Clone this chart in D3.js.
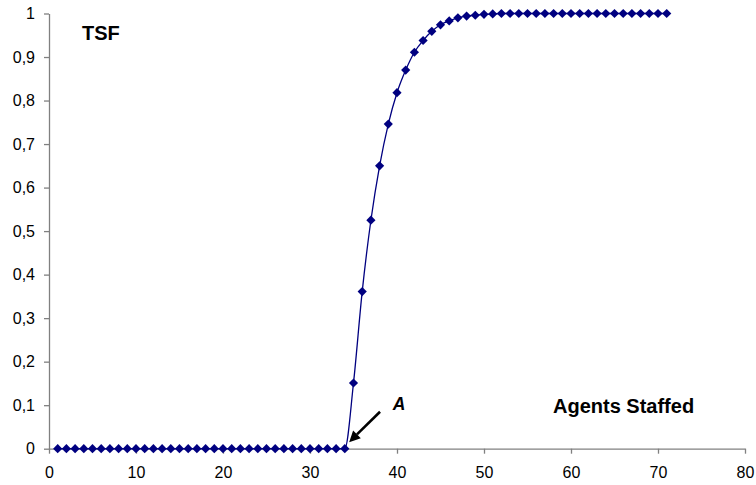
<!DOCTYPE html>
<html><head><meta charset="utf-8">
<script src="https://cdn.jsdelivr.net/npm/d3@7"></script>
<style>body{margin:0;background:#fff}svg{display:block}text{font-family:"Liberation Sans",Arial,sans-serif}</style>
</head><body><svg id="c" width="756" height="485"></svg>
<script>
const agents = d3.range(1, 72);
const tsf = [
 0,0,0,0,0,0,0,0,0,0, 0,0,0,0,0,0,0,0,0,0, 0,0,0,0,0,0,0,0,0,0, 0,0,0,0,
 0.151,0.361,0.525,0.650,0.746,0.818,0.870,0.911,0.938,0.959,0.974,0.983,0.990,0.994,0.996,0.998,
 0.999,1,1,1,1,1,1,1,1,1,1,1,1,1,1,1,1,1,1,1,1
];
const xTicks = [0,10,20,30,40,50,60,70,80];
const yTicks = [0,0.1,0.2,0.3,0.4,0.5,0.6,0.7,0.8,0.9,1];
const yTickLabels = ["0","0,1","0,2","0,3","0,4","0,5","0,6","0,7","0,8","0,9","1"];

const svg = d3.select("#c");
const x = d3.scaleLinear().domain([0,80]).range([49,745]);
const y = d3.scaleLinear().domain([0,1]).range([448.7,13.5]);
const axisColor = "#808080";

const xa = svg.append("g").attr("transform",`translate(0,${y(0)})`)
  .call(d3.axisBottom(x).tickValues(xTicks).tickSize(5).tickPadding(13).tickSizeOuter(0));
const ya = svg.append("g").attr("transform",`translate(${x(0)},0)`)
  .call(d3.axisLeft(y).tickValues(yTicks).tickFormat((d,i)=>yTickLabels[i]).tickSize(5).tickPadding(9).tickSizeOuter(0));
[xa,ya].forEach(a=>{
  a.select(".domain").attr("stroke",axisColor).attr("stroke-width",1.3);
  a.selectAll(".tick line").attr("stroke",axisColor).attr("stroke-width",1.3);
  a.selectAll("text").attr("fill","#000").attr("font-size",16).attr("font-family","'Liberation Sans',Arial,sans-serif");
});

const pts = agents.map((a,i)=>[a,tsf[i]]);
svg.append("path").datum(pts)
  .attr("fill","none").attr("stroke","#000080").attr("stroke-width",1.3)
  .attr("d", d3.line().x(d=>x(d[0])).y(d=>y(d[1])).curve(d3.curveMonotoneX));
svg.append("g").selectAll("path").data(pts).join("path")
  .attr("d","M0,-4.6L4.6,0L0,4.6L-4.6,0Z")
  .attr("fill","#000080")
  .attr("transform",d=>`translate(${x(d[0])},${y(d[1])})`);

svg.append("text").attr("x",82).attr("y",40).attr("font-size",20).attr("font-weight","bold").text("TSF");
svg.append("text").attr("x",553).attr("y",412.5).attr("font-size",20).attr("font-weight","bold").text("Agents Staffed");
svg.append("text").attr("x",x(39.5)).attr("y",y(0.09)).attr("font-size",17.5).attr("font-weight","bold").attr("font-style","italic").text("A");

// arrow annotation
const tail=[x(38.05),y(0.085)], head=[x(34.5),y(0.015)];
const ang=Math.atan2(head[1]-tail[1],head[0]-tail[0]);
const L=11, W=5.5;
const base=[head[0]-L*Math.cos(ang), head[1]-L*Math.sin(ang)];
svg.append("line").attr("x1",tail[0]).attr("y1",tail[1]).attr("x2",base[0]).attr("y2",base[1])
  .attr("stroke","#000").attr("stroke-width",2.6);
svg.append("path").attr("fill","#000").attr("d",
  `M${head[0]},${head[1]}L${base[0]+W*Math.sin(ang)},${base[1]-W*Math.cos(ang)}L${base[0]-W*Math.sin(ang)},${base[1]+W*Math.cos(ang)}Z`);
</script></body></html>
